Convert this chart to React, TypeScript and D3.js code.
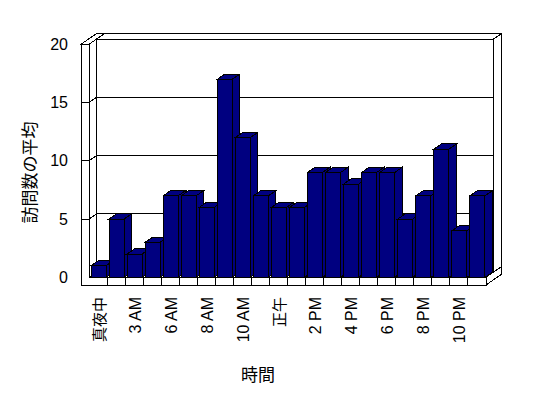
import React, { useEffect, useRef } from 'react';
import * as d3 from 'd3';

// 時間帯ごとの平均訪問数
const categories = [
  '真夜中', '1 AM', '3 AM', '5 AM', '6 AM', '7 AM', '8 AM', '9 AM', '10 AM', '11 AM', '正午',
  '1 PM', '2 PM', '3 PM', '4 PM', '5 PM', '6 PM', '7 PM', '8 PM', '9 PM', '10 PM', '11 PM',
];
const visits = [1, 5, 2, 3, 7, 7, 6, 17, 12, 7, 6, 6, 9, 9, 8, 9, 9, 5, 7, 11, 4, 7];
const yTicks = [0, 5, 10, 15, 20];

const FONT = '"Liberation Sans", "Noto Sans CJK JP", sans-serif';

const App = () => {
  const ref = useRef<SVGSVGElement>(null);

  useEffect(() => {
    const svg = d3.select(ref.current);
    svg.selectAll('*').remove();

    const left = 89;
    const right = 486;
    const floorBottom = 285;
    const wallOuter = 81;
    const dx = 7.5; // depth offset per step
    const dy = -5.2;

    const x = d3.scaleBand<string>().domain(categories).range([left, right]).padding(0);
    const y = d3.scaleLinear().domain([0, 20]).range([277.3, 44.3]);
    const y0 = y(0);
    const yTop = y(20);

    const g = svg.append('g').attr('shape-rendering', 'crispEdges');
    const poly = (pts: [number, number][]) => 'M' + pts.map((p) => p.join(',')).join('L') + 'Z';
    const face = (pts: [number, number][], fill = '#fff') =>
      g.append('path').attr('d', poly(pts)).attr('fill', fill).attr('stroke', '#000').attr('stroke-width', 1);

    // back wall (depth 1..2)
    face([[left + dx, yTop + dy], [right + dx, yTop + dy], [right + dx, y0 + dy], [left + dx, y0 + dy]]);
    face([[left + dx, yTop + dy], [right + dx, yTop + dy], [right + 2 * dx, yTop + 2 * dy], [left + 2 * dx, yTop + 2 * dy]]);
    face([[right + dx, yTop + dy], [right + 2 * dx, yTop + 2 * dy], [right + 2 * dx, y0 + 2 * dy], [right + dx, y0 + dy]]);

    // gridlines on the back wall
    yTicks.forEach((t) => {
      g.append('line')
        .attr('x1', left + dx).attr('x2', right + dx)
        .attr('y1', y(t) + dy).attr('y2', y(t) + dy)
        .attr('stroke', '#000');
    });

    // floor
    face([[left, y0], [right, y0], [right + dx, y0 + dy], [left + dx, y0 + dy]]);
    face([[right, y0], [right, floorBottom], [right + 2 * dx, floorBottom + 2 * dy], [right + 2 * dx, y0 + 2 * dy]]);

    // left wall
    face([[wallOuter, yTop], [left, yTop], [left + 2 * dx, yTop + 2 * dy], [wallOuter + 2 * dx, yTop + 2 * dy]]);
    face([[left, yTop], [left + dx, yTop + dy], [left + dx, y0 + dy], [left, y0]]);
    face([[wallOuter, yTop], [left, yTop], [left, y0], [right, y0], [right, floorBottom], [wallOuter, floorBottom]]);

    // value ticks across the left wall
    yTicks.filter((t) => t > 0 && t < 20).forEach((t) => {
      g.append('path')
        .attr('d', `M${wallOuter},${y(t)}L${left},${y(t)}L${left + dx},${y(t) + dy}`)
        .attr('fill', 'none').attr('stroke', '#000');
    });

    // category ticks on the floor front
    categories.slice(1).forEach((c) => {
      g.append('line')
        .attr('x1', x(c)!).attr('x2', x(c)!)
        .attr('y1', y0).attr('y2', floorBottom)
        .attr('stroke', '#000');
    });

    // 3D bars
    const barW = 15;
    categories.forEach((c, i) => {
      const x0 = x(c)! + 2;
      const x1 = x0 + barW;
      const yt = y(visits[i]);
      const navy = '#000080';
      face([[x0, yt], [x1, yt], [x1, y0], [x0, y0]], navy);
      face([[x1, yt], [x1 + dx, yt + dy], [x1 + dx, y0 + dy], [x1, y0]], navy);
      face([[x0, yt], [x1, yt], [x1 + dx, yt + dy], [x0 + dx, yt + dy]], navy);
    });

    // y tick labels
    svg.append('g').selectAll('text').data(yTicks).enter().append('text')
      .attr('x', 68).attr('y', (d) => y(d))
      .attr('text-anchor', 'end').attr('dominant-baseline', 'central')
      .attr('font-family', FONT).attr('font-size', 16)
      .text((d) => d);

    // category labels (every other)
    const isCjk = (s: string) => /[^\x00-\x7f]/.test(s);
    svg.append('g').selectAll('text')
      .data(categories.filter((_, i) => i % 2 === 0)).enter().append('text')
      .attr('transform', (d) => `translate(${x(d)! + x.bandwidth() / 2 + 1},297) rotate(-90)`)
      .attr('text-anchor', 'end').attr('dominant-baseline', 'central')
      .attr('font-family', FONT).attr('font-size', (d) => (isCjk(d) ? 15 : 16))
      .text((d) => d);

    // axis titles
    svg.append('text')
      .attr('x', 258).attr('y', 375)
      .attr('text-anchor', 'middle').attr('dominant-baseline', 'central')
      .attr('font-family', FONT).attr('font-size', 17)
      .text('時間');
    svg.append('text')
      .attr('transform', 'translate(30,172.5) rotate(-90)')
      .attr('text-anchor', 'middle').attr('dominant-baseline', 'central')
      .attr('font-family', FONT).attr('font-size', 17)
      .text('訪問数の平均');
  }, []);

  return (
    <svg
      ref={ref}
      width={548}
      height={398}
      style={{ position: 'absolute', left: 0, top: 0, background: '#fff' }}
    />
  );
};

export default App;
